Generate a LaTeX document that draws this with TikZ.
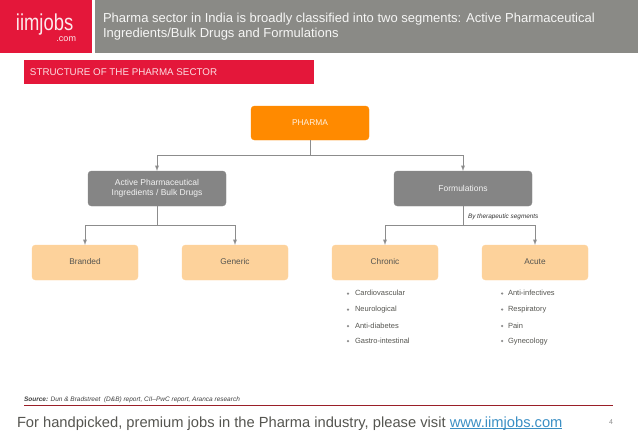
\documentclass[tikz,border=0pt]{standalone}
\usepackage{xcolor}
\usepackage{fontspec}
\setmainfont{Liberation Sans}
\usepackage{tikz}
\usetikzlibrary{calc}
\definecolor{iimred}{HTML}{E4173A}
\definecolor{headgray}{HTML}{8A8A86}
\definecolor{boxgray}{HTML}{858585}
\definecolor{boxorange}{HTML}{FF8A00}
\definecolor{boxpeach}{HTML}{FDD29B}
\definecolor{linegray}{HTML}{8C8C8C}
\definecolor{txtgray}{HTML}{555550}
\definecolor{rulered}{HTML}{9A1F28}
\definecolor{linkblue}{HTML}{3B8FC4}
\newcommand{\linkline}[1]{\setbox0\hbox{#1}\rlap{\rule[-1.7pt]{\wd0}{.7pt}}#1}
\tikzset{
  fsize/.style={font=\fontsize{#1}{#1}\selectfont},
  flat/.style={inner sep=0pt,outer sep=0pt},
  topbox/.style={draw=boxorange,fill=boxorange,rounded corners=3.5pt,minimum width=118pt,minimum height=34pt,flat,text=white!88!boxorange,fsize=8.4},
  midbox/.style={draw=boxgray,fill=boxgray,rounded corners=3.5pt,minimum width=138pt,minimum height=35pt,flat,text=white!90!boxgray,align=center,fsize=8.5},
  leafbox/.style={draw=boxpeach,fill=boxpeach,rounded corners=3.5pt,minimum width=106pt,minimum height=35pt,flat,text=txtgray,fsize=8.3,text height=6pt,text depth=1.5pt},
  item/.style={anchor=west,flat,text=txtgray,fsize=7.5,text height=5.5pt,text depth=1.5pt},
  dot/.style={flat,circle,fill=linegray,minimum size=2.5pt},
  conn/.style={draw=linegray,line width=0.9pt},
  arr/.style={conn,-{latex}}
}
\begin{document}
\begin{tikzpicture}[x=1pt,y=-1pt]
\useasboundingbox (0,0) rectangle (638,442);
\node[flat,fill=iimred,minimum width=92pt,minimum height=53pt,anchor=north west](logobox)at(0,0){};
\node[flat,fill=headgray,minimum width=543pt,minimum height=53pt,anchor=north west](headbox)at(95,0){};
\node[flat,anchor=base west,text=white!90!iimred,fsize=23](logotext)at(16,30){\scalebox{.8}[1]{iimjobs}};
\node[flat,anchor=base east,text=white!90!iimred,fsize=9](logocom)at(76,41){.com};
\node[flat,anchor=north west,text=white!92!headgray,align=left,font=\fontsize{13}{15}\selectfont](headtext)at(103,13.5){Pharma sector in India is broadly classified into two segments: Active Pharmaceutical\\Ingredients/Bulk Drugs and Formulations};
\node[flat,fill=iimred,minimum width=290pt,minimum height=24pt,anchor=north west](subbox)at(24,60){};
\node[flat,anchor=west,text=white!85!iimred,fsize=9.8](subtext)at(30,72.5){STRUCTURE OF THE PHARMA SECTOR};
\node[topbox](pharma)at(310,123){PHARMA};
\node[midbox](api)at(157,188.5){Active Pharmaceutical\\[1.5pt]Ingredients / Bulk Drugs};
\node[midbox](form)at(463,188.5){Formulations};
\node[leafbox](brand)at(85,262.5){Branded};
\node[leafbox](gener)at(235,262.5){Generic};
\node[leafbox](chron)at(385,262.5){Chronic};
\node[leafbox](acute)at(535,262.5){Acute};
\coordinate(s1)at(310,155);
\coordinate(s2)at(157,225);
\coordinate(s3)at(463,225);
\draw[conn](pharma)--(s1);
\draw[arr](s1)-|(api);
\draw[arr](s1)-|(form);
\draw[conn](api)--(s2);
\draw[arr](s2)-|(brand);
\draw[arr](s2)-|(gener);
\draw[conn](form)--(s3);
\draw[arr](s3)-|(chron);
\draw[arr](s3)-|(acute);
\node[flat,anchor=west,text=black!80,font=\fontsize{6.4}{7}\itshape](seglabel)at(468,216.5){By therapeutic segments};
\foreach \n/\t/\y in {a/Cardiovascular/293.5,b/Neurological/309.5,c/Anti-diabetes/326,d/Gastro-intestinal/341}{
  \node[dot](ch\n)at(348,\y){};
  \node[item](cl\n)at(355,\y){\t};
}
\foreach \n/\t/\y in {a/Anti-infectives/293.5,b/Respiratory/309.5,c/Pain/326,d/Gynecology/341}{
  \node[dot](ah\n)at(502,\y){};
  \node[item](al\n)at(508,\y){\t};
}
\node[flat,anchor=base west,text=black!75,font=\fontsize{6.5}{7}\itshape](source)at(24,401){\textbf{Source:} Dun \& Bradstreet\ \ (D\&B) report, CII--PwC report, Aranca research};
\draw[rulered,line width=0.8pt](24,405)--(613,405);
\node[flat,anchor=base west,text=txtgray,fsize=14.7](foot)at(17,427){For handpicked, premium jobs in the Pharma industry, please visit \textcolor{linkblue}{\linkline{www.iimjobs.com}}};
\node[flat,anchor=base,text=linegray,fsize=7](pageno)at(611,424){4};
\end{tikzpicture}
\end{document}
